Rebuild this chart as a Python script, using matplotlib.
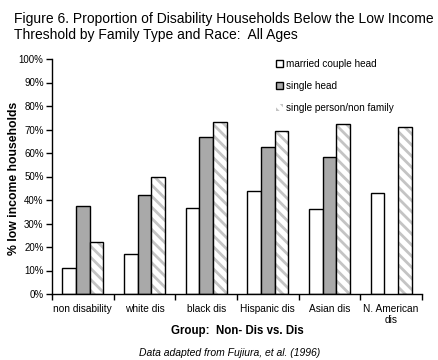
#! /usr/bin/env python3
"""Figure 6: share of low income households by family type and race."""

import numpy as np
import matplotlib
matplotlib.use('Agg')
import matplotlib.pyplot as plt

plt.rcParams['font.family'] = ['Liberation Sans', 'DejaVu Sans']
plt.rcParams['hatch.linewidth'] = 2.0

# Daten
groups = ['non disability', 'white dis', 'black dis', 'Hispanic dis',
          'Asian dis', 'N. American\ndis']
married = [11, 17, 36.5, 44, 36, 43]
single_head = [37.5, 42, 67, 62.5, 58.5, np.nan]
single_person = [22, 50, 73, 69.5, 72.5, 71]
yticks = np.arange(0, 101, 10)

W, H = 438, 360
fig = plt.figure(figsize=(W / 100, H / 100), dpi=100)
ax = fig.add_axes([52 / W, 1 - 294 / H, 370 / W, 235 / H])

x = np.arange(len(groups)) + 0.5
w = 0.222
ax.bar(x - w, married, w, color='white', edgecolor='black', lw=1.0,
       label='married couple head')
ax.bar(x, single_head, w, color='#a9a9a9', edgecolor='black', lw=1.0,
       label='single head')
ax.bar(x + w, single_person, w, color='white', edgecolor='#c4c4c4', lw=0,
       hatch='\\\\\\', label='single person/non family')
# schwarzer Rand fuer die schraffierten Balken
ax.bar(x + w, single_person, w, fill=False, edgecolor='black', lw=1.0)

ax.set_xlim(0, len(groups))
ax.set_ylim(0, 100)
ax.set_yticks(yticks)
ax.set_yticklabels(['%d%%' % v for v in yticks], fontsize=7)
ax.set_xticks(np.arange(len(groups) + 1))
ax.set_xticklabels([])
ax.set_xticks(x, minor=True)
ax.set_xticklabels(groups, minor=True, fontsize=7.3)
ax.tick_params(axis='x', which='minor', length=0, pad=7)
ax.tick_params(axis='both', which='major', direction='out', length=4,
               width=1.0, color='black', pad=2)
ax.spines['top'].set_visible(False)
ax.spines['right'].set_visible(False)
for s in ['left', 'bottom']:
    ax.spines[s].set_linewidth(1.0)

fig.text(14 / W, 1 - 178 / H, '% low income households', rotation=90,
         ha='center', va='center', fontsize=8.8, fontweight='bold')
fig.text(237 / W, 1 - 331 / H, 'Group:  Non- Dis vs. Dis',
         ha='center', va='center', fontsize=8.3, fontweight='bold')
fig.text(230 / W, 1 - 353 / H, 'Data adapted from Fujiura, et al. (1996)',
         ha='center', va='center', fontsize=7.5, style='italic')

fig.text(14 / W, 1 - 12 / H,
         'Figure 6. Proportion of Disability Households Below the Low Income\n'
         'Threshold by Family Type and Race:  All Ages',
         ha='left', va='top', fontsize=10, linespacing=1.15)

fig.legend(loc='upper left', bbox_to_anchor=(276 / W, 1 - 59 / H),
           frameon=False, fontsize=7.2, handlelength=0.7, handleheight=0.7,
           handletextpad=0.35, labelspacing=1.2, borderpad=0,
           borderaxespad=0)

fig.savefig('out.png', dpi=100)
